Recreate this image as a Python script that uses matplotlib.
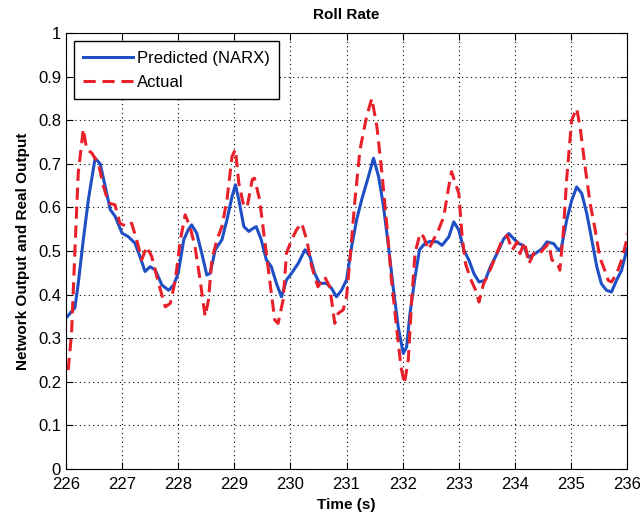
import numpy as np
import matplotlib
matplotlib.use("Agg")
import matplotlib.pyplot as plt

plt.rcParams["font.family"] = ["Liberation Sans", "DejaVu Sans"]

# predicted (NARX) output
t_pred = [226.0, 226.16, 226.22, 226.31, 226.4, 226.52, 226.61, 226.7, 226.79, 226.875,
          227.0, 227.11, 227.23, 227.32, 227.41, 227.5, 227.59, 227.71, 227.83, 227.92,
          228.0, 228.1, 228.18, 228.24, 228.33, 228.42, 228.51, 228.57, 228.66, 228.78,
          228.87, 228.96, 229.02, 229.08, 229.17, 229.26, 229.30, 229.39, 229.48, 229.57,
          229.66, 229.75, 229.84, 229.93, 230.02, 230.14, 230.26, 230.35, 230.43, 230.52,
          230.64, 230.73, 230.82, 230.91, 231.0, 231.09, 231.18, 231.27, 231.39, 231.48,
          231.57, 231.65, 231.74, 231.83, 231.92, 232.01, 232.07, 232.13, 232.22, 232.3,
          232.4, 232.49, 232.62, 232.70, 232.82, 232.91, 233.0, 233.09, 233.18, 233.27,
          233.36, 233.47, 233.56, 233.68, 233.8, 233.89, 233.98, 234.07, 234.15, 234.24,
          234.36, 234.48, 234.57, 234.69, 234.78, 234.83, 234.92, 235.01, 235.1, 235.19,
          235.28, 235.37, 235.46, 235.54, 235.63, 235.72, 235.81, 235.9, 235.99, 236.0]
y_pred = [0.346, 0.37, 0.426, 0.526, 0.618, 0.713, 0.70, 0.648, 0.595, 0.58,
          0.541, 0.533, 0.518, 0.487, 0.453, 0.464, 0.457, 0.422, 0.41, 0.422,
          0.449, 0.526, 0.549, 0.56, 0.541, 0.495, 0.445, 0.449, 0.503, 0.526,
          0.572, 0.625, 0.652, 0.618, 0.556, 0.545, 0.549, 0.556, 0.526, 0.48,
          0.464, 0.426, 0.395, 0.434, 0.449, 0.472, 0.503, 0.487, 0.449, 0.426,
          0.426, 0.415, 0.395, 0.41, 0.434, 0.51, 0.572, 0.618, 0.671, 0.713,
          0.671, 0.61, 0.518, 0.418, 0.326, 0.265, 0.28, 0.357, 0.44, 0.503,
          0.518, 0.522, 0.521, 0.513, 0.532, 0.567, 0.548, 0.502, 0.479, 0.448,
          0.429, 0.433, 0.463, 0.494, 0.528, 0.54, 0.528, 0.517, 0.513, 0.486,
          0.494, 0.505, 0.521, 0.517, 0.501, 0.509, 0.57, 0.616, 0.647, 0.632,
          0.586, 0.525, 0.463, 0.425, 0.41, 0.406, 0.433, 0.456, 0.502, 0.505]

# actual output
t_act = [226.04, 226.1, 226.16, 226.22, 226.31, 226.37, 226.46, 226.58, 226.67, 226.76,
         226.875, 226.96, 227.08, 227.17, 227.26, 227.35, 227.44, 227.53, 227.65, 227.77,
         227.86, 227.95, 228.04, 228.125, 228.21, 228.3, 228.39, 228.48, 228.54, 228.6,
         228.69, 228.78, 228.87, 228.96, 229.02, 229.08, 229.17, 229.23, 229.32, 229.36,
         229.45, 229.54, 229.63, 229.72, 229.78, 229.87, 229.93, 230.02, 230.11, 230.2,
         230.29, 230.38, 230.49, 230.61, 230.7, 230.79, 230.85, 230.94, 231.0, 231.06,
         231.15, 231.24, 231.36, 231.45, 231.54, 231.63, 231.72, 231.80, 231.89, 231.97,
         232.03, 232.1, 232.16, 232.22, 232.31, 232.37, 232.46, 232.55, 232.64, 232.73,
         232.82, 232.87, 232.94, 233.0, 233.06, 233.12, 233.21, 233.3, 233.36, 233.44,
         233.53, 233.65, 233.77, 233.86, 233.95, 234.04, 234.09, 234.17, 234.25, 234.33,
         234.42, 234.51, 234.6, 234.66, 234.75, 234.8, 234.86, 234.92, 235.01, 235.1,
         235.16, 235.25, 235.34, 235.43, 235.51, 235.6, 235.66, 235.72, 235.81, 235.9,
         235.99, 236.0]
y_act = [0.227, 0.31, 0.50, 0.68, 0.78, 0.733, 0.725, 0.70, 0.648, 0.61,
         0.606, 0.564, 0.556, 0.564, 0.526, 0.48, 0.51, 0.487, 0.426, 0.372,
         0.38, 0.434, 0.526, 0.583, 0.556, 0.51, 0.434, 0.35, 0.388, 0.48,
         0.526, 0.556, 0.618, 0.717, 0.733, 0.656, 0.602, 0.602, 0.664, 0.667,
         0.618, 0.526, 0.434, 0.342, 0.334, 0.388, 0.495, 0.526, 0.549, 0.564,
         0.526, 0.464, 0.418, 0.441, 0.418, 0.334, 0.357, 0.365, 0.395, 0.48,
         0.618, 0.733, 0.81, 0.85, 0.786, 0.679, 0.556, 0.434, 0.326, 0.234,
         0.196, 0.25, 0.388, 0.495, 0.541, 0.533, 0.503, 0.526, 0.549, 0.578,
         0.647, 0.682, 0.655, 0.632, 0.532, 0.471, 0.436, 0.41, 0.383, 0.425,
         0.448, 0.486, 0.525, 0.536, 0.502, 0.521, 0.494, 0.521, 0.471, 0.494,
         0.49, 0.505, 0.517, 0.479, 0.475, 0.456, 0.54, 0.662, 0.80, 0.827,
         0.785, 0.693, 0.609, 0.548, 0.486, 0.456, 0.433, 0.429, 0.448, 0.479,
         0.525, 0.54]

fig = plt.figure(figsize=(6.4, 5.2), dpi=100)
ax = fig.add_axes([0.103, 0.098, 0.877, 0.8385])

ax.plot(t_pred, y_pred, "-", color="#1f4fc4", lw=2.2, label="Predicted (NARX)")
ax.plot(t_act, y_act, "--", color="#e8202a", lw=2.2, dashes=(4, 2.2), label="Actual")

ax.set_xlim(226, 236)
ax.set_ylim(0, 1)
ax.set_xticks(np.arange(226, 237, 1))
ax.set_yticks(np.round(np.arange(0, 1.01, 0.1), 1))
ax.set_yticklabels(["0", "0.1", "0.2", "0.3", "0.4", "0.5", "0.6", "0.7", "0.8", "0.9", "1"])
ax.tick_params(direction="in", top=True, right=True, labelsize=12, length=5)
ax.tick_params(axis="x", pad=6)
ax.grid(True, color="black", linestyle=(0, (1, 3)), linewidth=0.8)

ax.set_title("Roll Rate", fontsize=11, fontweight="bold", pad=10)
ax.set_xlabel("Time (s)", fontsize=11, fontweight="bold", labelpad=4)
ax.set_ylabel("Network Output and Real Output", fontsize=11, fontweight="bold", labelpad=6)

leg = ax.legend(loc="upper left", fontsize=12, fancybox=False, framealpha=1,
                edgecolor="black", handlelength=3.0, handletextpad=0.2,
                borderpad=0.55, labelspacing=0.55, borderaxespad=0.5)
leg.get_frame().set_linewidth(1.0)

plt.savefig("out.png", dpi=100)
